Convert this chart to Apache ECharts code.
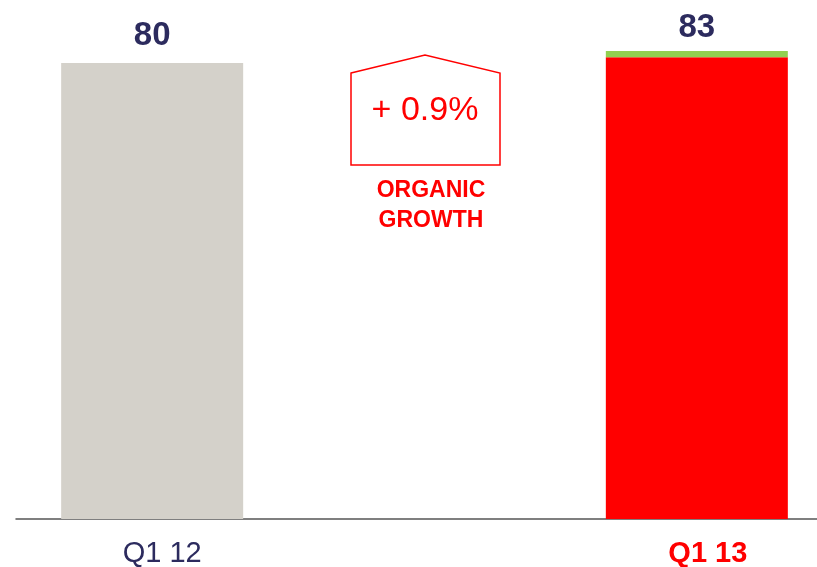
<!DOCTYPE html>
<html>
<head>
<meta charset="utf-8">
<script src="https://cdn.jsdelivr.net/npm/echarts@6/dist/echarts.min.js"></script>
<style>
  html, body { margin: 0; padding: 0; background: #fff; }
  #chart { width: 817px; height: 567px; }
</style>
</head>
<body>
<div id="chart"></div>
<script>
// categories (middle slot holds the growth badge)
const categories = ["Q1 12", "", "Q1 13"];
// bar values
const baseValues = [80, null, null];
const organicValues = [null, null, 81];
const otherValues = [null, null, 1.1];
// labels shown above bars
const totalLabels = ["80", "", "83"];
const growthText = "+ 0.9%";
const growthCaption = "ORGANIC\nGROWTH";

const navy = "#2c2b5e";
const red = "#ff0000";
const font = "Liberation Sans, Arial, sans-serif";

let chart = echarts.init(document.getElementById("chart"));

let option = {
  animation: false,
  grid: { left: 16, right: -16, top: 6, bottom: 48, outerBoundsMode: "none", containLabel: false },
  xAxis: {
    type: "category",
    data: categories,
    axisTick: { show: false },
    axisLine: { lineStyle: { color: "#555", width: 1.5 } },
    axisLabel: {
      margin: 20,
      rich: {
        n: { fontSize: 29, fontFamily: font, color: navy, padding: [0, 0, 0, 20] },
        b: { fontSize: 29, fontWeight: "bold", fontFamily: font, color: red, padding: [0, 0, 0, 22] }
      },
      formatter: function (v, i) { return i === 2 ? "{b|" + v + "}" : "{n|" + v + "}"; }
    }
  },
  yAxis: {
    type: "value",
    min: 0,
    max: 90,
    show: false,
    splitLine: { show: false }
  },
  series: [
    {
      name: "base",
      type: "bar",
      stack: "a",
      barWidth: 182,
      data: baseValues,
      itemStyle: { color: "#d4d1ca" },
      label: {
        show: true,
        position: "top",
        distance: 11,
        formatter: function (p) { return totalLabels[p.dataIndex]; },
        fontFamily: font,
        fontSize: 33,
        fontWeight: "bold",
        color: navy
      }
    },
    {
      name: "organic",
      type: "bar",
      stack: "a",
      barWidth: 182,
      data: organicValues,
      itemStyle: { color: red }
    },
    {
      name: "other",
      type: "bar",
      stack: "a",
      barWidth: 182,
      data: otherValues,
      itemStyle: { color: "#92d050" },
      label: {
        show: true,
        position: "top",
        distance: 7,
        formatter: function (p) { return totalLabels[p.dataIndex]; },
        fontFamily: font,
        fontSize: 33,
        fontWeight: "bold",
        color: navy
      }
    }
  ],
  graphic: [
    {
      // house-shaped badge
      type: "polygon",
      shape: { points: [[351, 73], [425, 55], [500, 73], [500, 165], [351, 165]] },
      style: { fill: "none", stroke: red, lineWidth: 1.5 }
    },
    {
      type: "text",
      x: 425, y: 111,
      style: {
        text: growthText,
        fill: red,
        fontFamily: font,
        fontSize: 34,
        align: "center",
        verticalAlign: "middle"
      }
    },
    {
      type: "text",
      x: 431, y: 206,
      style: {
        text: growthCaption,
        fill: red,
        fontFamily: font,
        fontSize: 23,
        fontWeight: "bold",
        lineHeight: 30,
        align: "center",
        verticalAlign: "middle"
      }
    }
  ]
};

chart.setOption(option);
window.onresize = chart.resize;
</script>
</body>
</html>
